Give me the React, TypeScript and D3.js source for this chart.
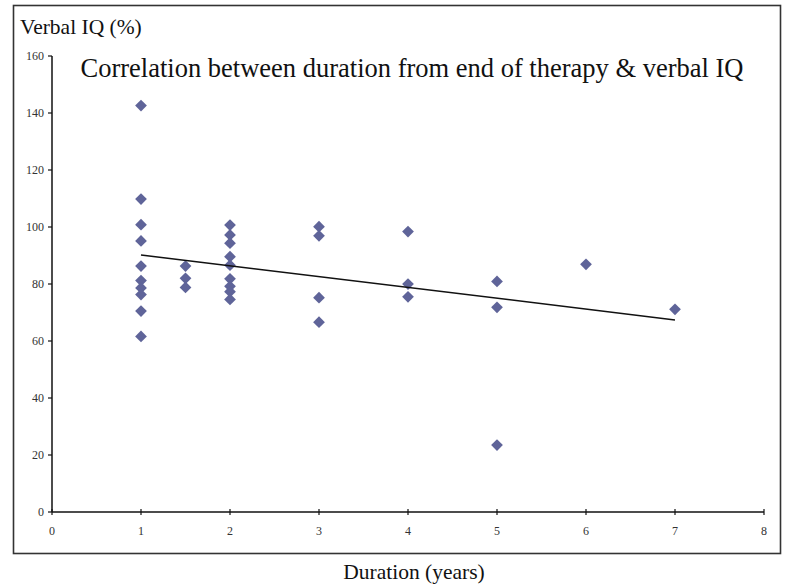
import React from "react";
import * as d3 from "d3";

const xTicks = [0, 1, 2, 3, 4, 5, 6, 7, 8];
const yTicks = [0, 20, 40, 60, 80, 100, 120, 140, 160];

const durations = [
  1, 1, 1, 1, 1, 1, 1, 1, 1, 1,
  1.5, 1.5, 1.5,
  2, 2, 2, 2, 2, 2, 2, 2, 2,
  3, 3, 3, 3,
  4, 4, 4,
  5, 5, 5,
  6,
  7,
];
const verbalIQ = [
  142.6, 109.8, 100.8, 95.1, 86.3, 81.2, 78.6, 76.3, 70.5, 61.6,
  86.3, 82.0, 78.8,
  100.7, 97.2, 94.3, 89.6, 86.6, 81.8, 79.2, 77.3, 74.6,
  100.1, 96.9, 75.2, 66.6,
  98.4, 80.0, 75.5,
  80.9, 71.8, 23.5,
  86.9,
  71.1,
];
const trendX = [1, 7];
const trendY = [90.2, 67.4];

const W = 799;
const H = 585;
const left = 52;
const right = 764;
const top = 56;
const bottom = 512;
const serif = "'Liberation Serif', 'Times New Roman', serif";

export default function App() {
  const x = d3.scaleLinear().domain([0, 8]).range([left, right]);
  const y = d3.scaleLinear().domain([0, 160]).range([bottom, top]);
  const diamond = d3.symbol().type(d3.symbolDiamond2).size(88)();
  const line = d3
    .line<number>()
    .x((d) => x(trendX[d]))
    .y((d) => y(trendY[d]))([0, 1]);

  return (
    <svg
      width={W}
      height={H}
      style={{ position: "absolute", left: 0, top: 0, background: "#fff" }}
    >
      <rect x={0} y={0} width={W} height={H} fill="#fff" />
      <rect x={13.5} y={5.5} width={767} height={548} fill="none" stroke="#333" strokeWidth={1.6} />
      <text x={20} y={34} fontSize={21.5} fontFamily={serif} fill="#111">Verbal IQ (%)</text>
      <text x={412} y={77} fontSize={26.5} fontFamily={serif} textAnchor="middle" fill="#111">
        Correlation between duration from end of therapy &amp; verbal IQ
      </text>
      <text x={414} y={579} fontSize={21.5} fontFamily={serif} textAnchor="middle" fill="#111">Duration (years)</text>

      {/* axes */}
      <line x1={left} x2={left} y1={top} y2={bottom} stroke="#111" strokeWidth={1.5} />
      <line x1={left} x2={right} y1={bottom} y2={bottom} stroke="#111" strokeWidth={1.5} />
      {yTicks.map((t) => (
        <g key={"y" + t}>
          <line x1={left - 4} x2={left} y1={y(t)} y2={y(t)} stroke="#111" strokeWidth={1.2} />
          <text x={left - 8} y={y(t) + 4} fontSize={12} fontFamily={serif} textAnchor="end" fill="#333">{t}</text>
        </g>
      ))}
      {xTicks.map((t) => (
        <g key={"x" + t}>
          <line x1={x(t)} x2={x(t)} y1={bottom - 3} y2={bottom + 3} stroke="#111" strokeWidth={1.2} />
          <text x={x(t)} y={bottom + 23} fontSize={12} fontFamily={serif} textAnchor="middle" fill="#333">{t}</text>
        </g>
      ))}

      {/* points */}
      {durations.map((d, i) => (
        <path
          key={i}
          d={diamond ?? ""}
          transform={`translate(${x(d)},${y(verbalIQ[i])})`}
          fill="#5f6499"
        />
      ))}

      {/* trend */}
      <path d={line ?? ""} fill="none" stroke="#111" strokeWidth={1.5} />
    </svg>
  );
}
